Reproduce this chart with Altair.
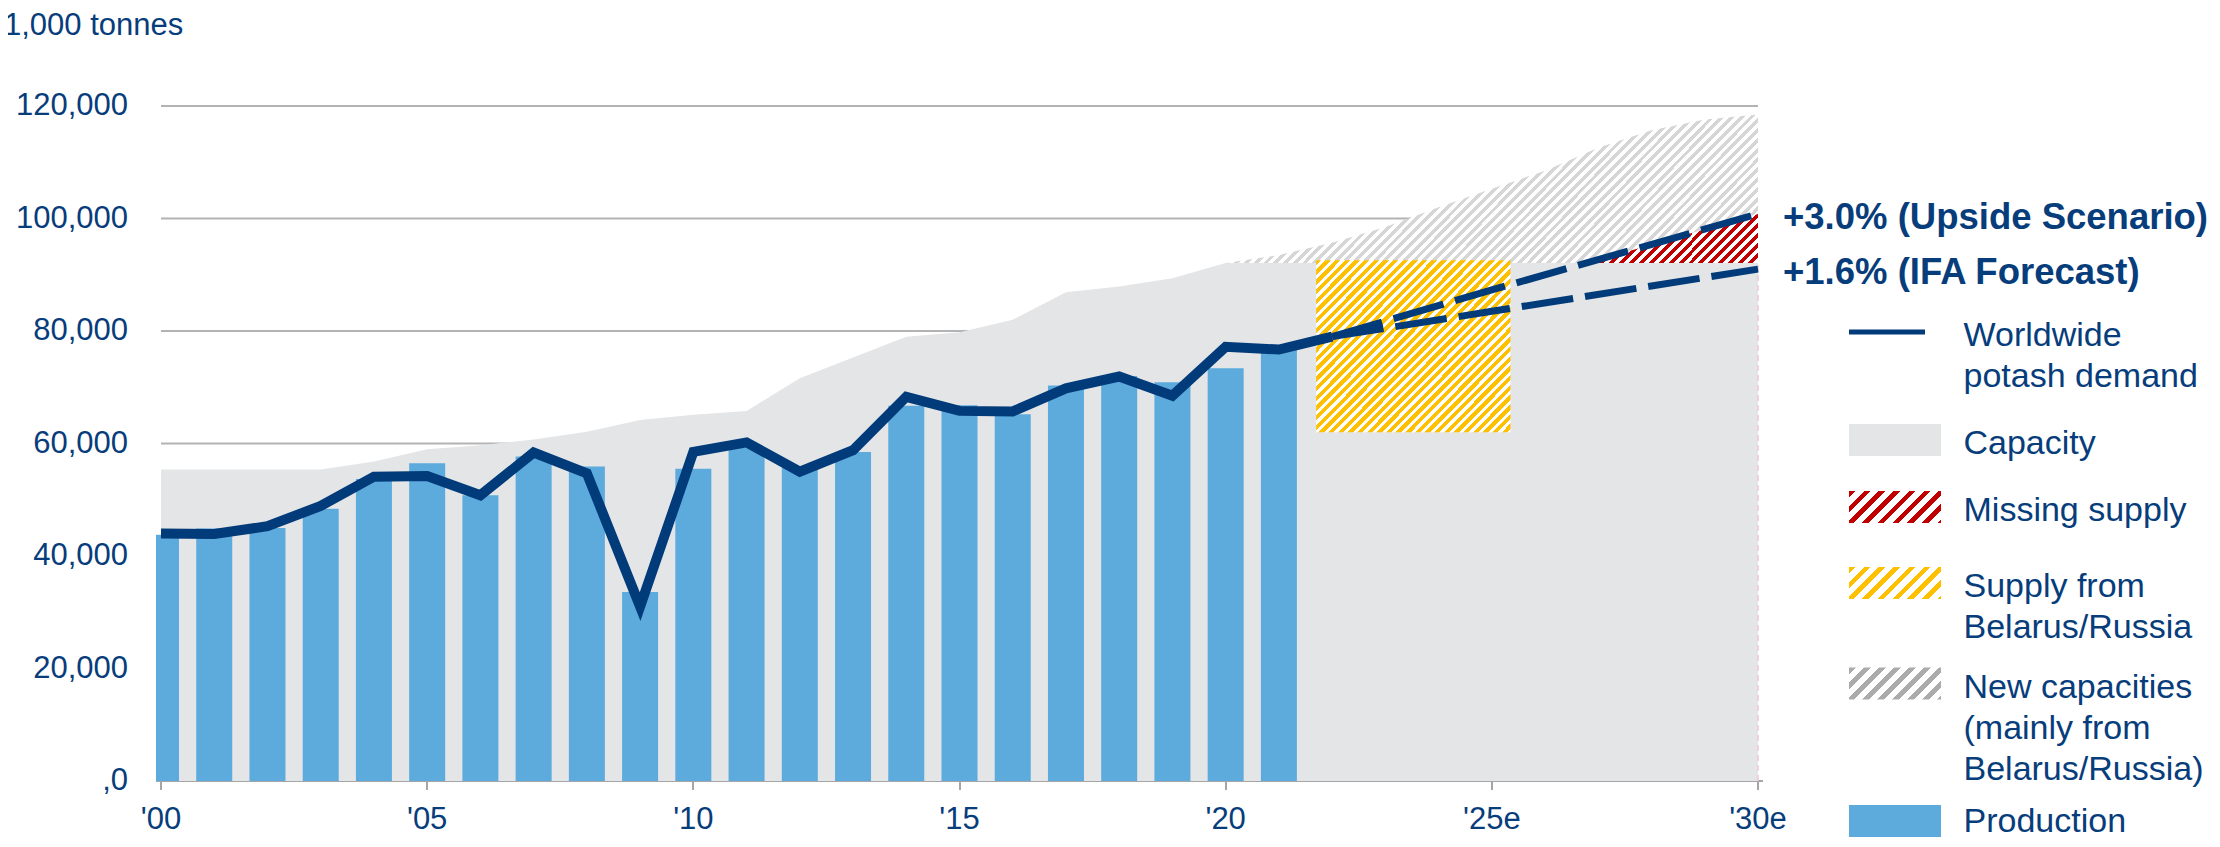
import altair as alt
import pandas as pd

# ---------------- data (1,000 tonnes) ----------------
prod_years = list(range(2000, 2022))
production = [43800, 44900, 45000, 48400, 53700, 56500, 50800, 57700, 55900, 33600,
              55500, 59300, 55800, 58500, 66700, 66800, 65200, 70300, 72000, 70900,
              73400, 77500]

demand_years = list(range(2000, 2023))
demand = [44000, 43900, 45300, 48900, 54100, 54200, 50800, 58400, 54700, 31000,
          58500, 60200, 55000, 58800, 68300, 65800, 65700, 69800, 71900, 68500,
          77200, 76700, 79000]

capacity_years = list(range(2000, 2021)) + [2030]
capacity = [55400, 55400, 55400, 55400, 56800, 59000, 59700, 60700, 62100, 64200,
            65100, 65800, 71600, 75300, 79000, 79800, 82000, 86900, 87900, 89400,
            92100, 92100]

new_cap_years = list(range(2020, 2031))
new_cap_top = [92100, 93500, 95700, 98500, 102000, 105300, 108500, 112600, 115700,
               117600, 118500]
new_cap_base = 92100

belarus_x = [2021.7, 2025.35]
belarus_y = [62000, 92600]

missing_years = [2026.8, 2030]
missing_top = [92100, 100800]
missing_base = 92100

scenario_years = [2022, 2025, 2030]
upside = [79000, 87300, 100800]
ifa = [79000, 83500, 91000]
scenario_labels = ["+3.0% (Upside Scenario)", "+1.6% (IFA Forecast)"]

legend_labels = ["Worldwide\npotash demand", "Capacity", "Missing supply",
                 "Supply from\nBelarus/Russia", "New capacities\n(mainly from\nBelarus/Russia)",
                 "Production"]

x_ticks = [2000, 2005, 2010, 2015, 2020, 2025, 2030]
y_ticks = [0, 20000, 40000, 60000, 80000, 100000, 120000]

# ---------------- styling / layout ----------------
BLUE = "#073D7B"
LINE = "#023B7A"
BAR = "#5DAADD"
CAP = "#E4E5E7"
YELLOW = "#FFC000"
RED = "#C00000"
HATCH_GRAY = "#D6D6D6"
LEG_GRAY = "#ABABAB"
PINK = "#F0C8D2"
GRID = "#B3B3B3"
FONT = "Liberation Sans"

W, H = 1607, 675
PAD_L, PAD_T = 148, 98
TOTAL_W, TOTAL_H = 2204, 831
px_year = W / 30.0
px_unit = H / 120000.0


def stripes(color, w, h, period, frac, bg="#FFFFFF"):
    n = (w + h) / period
    s = (w + h) / (w * w + h * h)
    step = 1.0 / n
    stops = []
    i = 0
    while i * step < 1.0:
        a = round(i * step, 6)
        b = round(min(i * step + frac * step, 1.0), 6)
        c = round(min((i + 1) * step, 1.0), 6)
        stops += [{"offset": a, "color": color}, {"offset": b, "color": color},
                  {"offset": b, "color": bg}, {"offset": c, "color": bg}]
        i += 1
    return {"gradient": "linear", "x1": 0, "y1": 0, "x2": w * s, "y2": h * s, "stops": stops}


xscale = alt.Scale(domain=[2000, 2030], nice=False, zero=False)
yscale = alt.Scale(domain=[0, 120000], nice=False, zero=True)

xaxis = alt.Axis(values=x_ticks, title=None, grid=False, translate=0,
                 labelExpr="\"'\" + format(datum.value % 100, '02d') + (datum.value >= 2025 ? 'e' : '')",
                 labelFont=FONT, labelFontSize=31, labelColor=BLUE, labelPadding=15,
                 labelFlush=False, labelOverlap=False,
                 domainColor="#A6A6A6", domainWidth=2, tickColor="#A6A6A6", tickWidth=2, tickSize=9)

yaxis = alt.Axis(values=y_ticks, labelExpr="datum.value == 0 ? ',0' : format(datum.value, ',')",
                 labelFont=FONT, labelFontSize=31, labelColor=BLUE, labelPadding=28,
                 ticks=False, tickSize=0, domain=False, translate=0, grid=False,
                 title="1,000 tonnes", titleAngle=0, titleX=-152, titleY=-71,
                 titleAlign="left", titleBaseline="alphabetic", titleFont=FONT,
                 titleFontSize=31, titleFontWeight="normal", titleColor=BLUE)


def X(f):
    return alt.X(f, type="quantitative", scale=xscale, axis=xaxis)


def Y(f):
    return alt.Y(f, type="quantitative", scale=yscale, axis=yaxis)


grid_df = pd.DataFrame({"y": y_ticks[1:], "x": [2000] * (len(y_ticks) - 1),
                        "x2": [2030] * (len(y_ticks) - 1)})
cap_df = pd.DataFrame({"year": capacity_years, "value": capacity})
new_df = pd.DataFrame({"year": new_cap_years, "top": new_cap_top,
                       "base": [new_cap_base] * len(new_cap_years)})
bel_df = pd.DataFrame({"x": [belarus_x[0]], "x2": [belarus_x[1]],
                       "y": [belarus_y[0]], "y2": [belarus_y[1]]})
mis_df = pd.DataFrame({"year": missing_years, "top": missing_top,
                       "base": [missing_base] * len(missing_years)})
prod_df = pd.DataFrame({"year": prod_years, "value": production})
dem_df = pd.DataFrame({"year": demand_years, "value": demand})
scen_df = pd.DataFrame({"year": scenario_years * 2, "value": upside + ifa,
                        "scenario": ["up"] * 3 + ["ifa"] * 3})
lab_df = pd.DataFrame({"year": [2030, 2030], "value": [upside[-1], ifa[-1]],
                       "label": scenario_labels})
edge_df = pd.DataFrame({"year": [capacity_years[-1]], "y": [0], "y2": [capacity[-1]]})

gray_w = (new_cap_years[-1] - new_cap_years[0]) * px_year
gray_h = (max(new_cap_top) - new_cap_base) * px_unit
yel_w = (belarus_x[1] - belarus_x[0]) * px_year
yel_h = (belarus_y[1] - belarus_y[0]) * px_unit
red_w = (missing_years[1] - missing_years[0]) * px_year
red_h = (max(missing_top) - missing_base) * px_unit

grid_layer = alt.Chart(grid_df).mark_rule(color=GRID, strokeWidth=2).encode(
    x=X("x"), x2="x2", y=Y("y"))
capacity_layer = alt.Chart(cap_df).mark_area(color=CAP).encode(x=X("year"), y=Y("value"))
edge_layer = alt.Chart(edge_df).mark_rule(color=PINK, strokeWidth=1.5, strokeDash=[6, 4]).encode(
    x=X("year"), y=Y("y"), y2="y2")
newcap_layer = alt.Chart(new_df).mark_area(fill=stripes(HATCH_GRAY, gray_w, gray_h, 9.8, 0.5)).encode(
    x=X("year"), y=Y("top"), y2="base")
belarus_layer = alt.Chart(bel_df).mark_rect(fill=stripes(YELLOW, yel_w, yel_h, 9.7, 0.56)).encode(
    x=X("x"), x2="x2", y=Y("y"), y2="y2")
missing_layer = alt.Chart(mis_df).mark_area(fill=stripes(RED, red_w, red_h, 10, 0.5)).encode(
    x=X("year"), y=Y("top"), y2="base")
bar_layer = alt.Chart(prod_df).mark_bar(size=36, color=BAR, clip=True).encode(x=X("year"), y=Y("value"))
demand_layer = alt.Chart(dem_df).mark_line(color=LINE, strokeWidth=10).encode(x=X("year"), y=Y("value"))
scen_layer = alt.Chart(scen_df).mark_line(color=LINE, strokeWidth=7, strokeDash=[52, 12]).encode(
    x=X("year"), y=Y("value"), detail="scenario:N")
lab_layer = alt.Chart(lab_df).mark_text(align="left", baseline="middle", dx=25, dy=4, font=FONT,
                                        fontSize=36.5, fontWeight="bold", color=BLUE).encode(
    x=X("year"), y=Y("value"), text="label:N")

# ---------------- legend ----------------
one = alt.Data(values=[{"k": 1}])
LX0, LX1, LXL, TX = 1693, 1785, 1769, 1807.5
SYM_W, SYM_H = LX1 - LX0, 32


def leg_rect(y0, fill):
    return alt.Chart(one).mark_rect(fill=fill).encode(
        x=alt.value(LX0), x2=alt.value(LX1), y=alt.value(y0), y2=alt.value(y0 + SYM_H))


def leg_text(y_top, label):
    return alt.Chart(one).mark_text(align="left", baseline="top", lineBreak="\n", lineHeight=41,
                                    font=FONT, fontSize=34, color=BLUE).encode(
        x=alt.value(TX), y=alt.value(y_top), text=alt.value(label))


legend = [
    alt.Chart(one).mark_rule(color=LINE, strokeWidth=5).encode(
        x=alt.value(LX0), x2=alt.value(LXL), y=alt.value(226)),
    leg_text(212.5, legend_labels[0]),
    leg_rect(318, CAP),
    leg_text(321, legend_labels[1]),
    leg_rect(385, stripes(RED, SYM_W, SYM_H, 15, 0.45)),
    leg_text(387.5, legend_labels[2]),
    leg_rect(461, stripes(YELLOW, SYM_W, SYM_H, 15, 0.45)),
    leg_text(463.5, legend_labels[3]),
    leg_rect(561.5, stripes(LEG_GRAY, SYM_W, SYM_H, 15, 0.45)),
    leg_text(564.5, legend_labels[4]),
    leg_rect(699, BAR),
    leg_text(699, legend_labels[5]),
]

chart = alt.layer(
    grid_layer, capacity_layer, edge_layer, newcap_layer, belarus_layer, missing_layer, bar_layer,
    demand_layer, scen_layer, lab_layer, *legend
).properties(
    width=W, height=H,
    autosize=alt.AutoSizeParams(type="none"),
    padding={"left": PAD_L, "top": PAD_T, "right": TOTAL_W - PAD_L - W, "bottom": TOTAL_H - PAD_T - H},
    background="white",
).configure_view(stroke=None)

chart.save("out.html", embed_options={"renderer": "svg", "actions": False})
